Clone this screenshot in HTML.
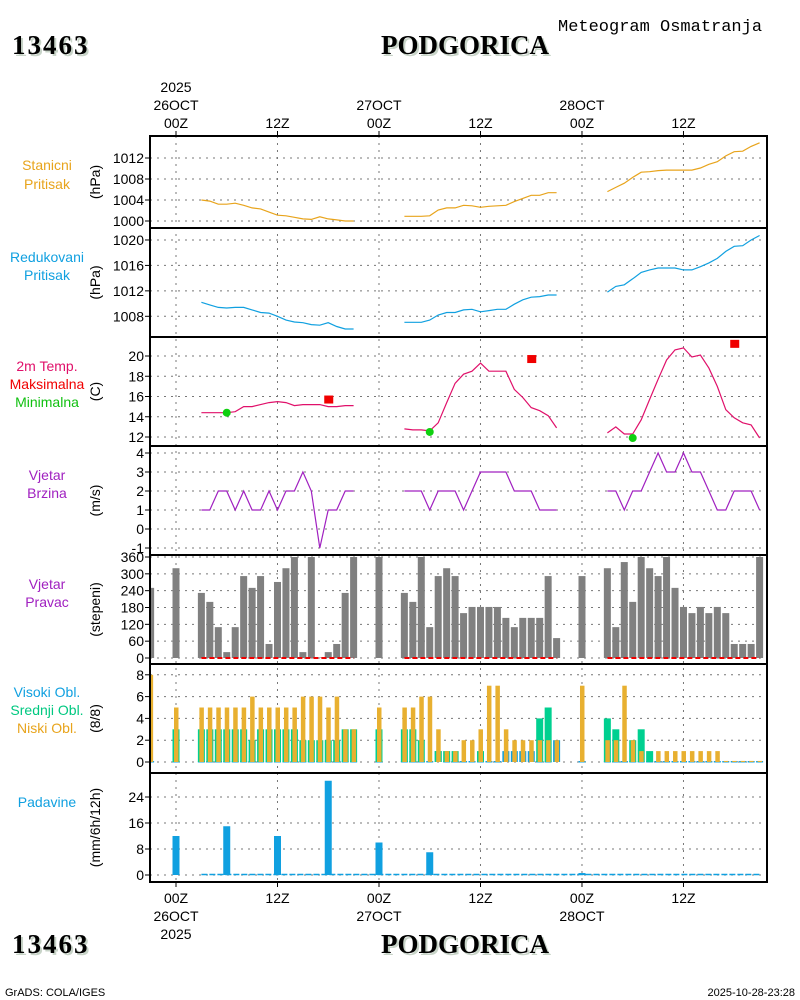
<!DOCTYPE html>
<html><head><meta charset="utf-8">
<style>
body{margin:0;background:#fff;}
svg{display:block;font-family:"Liberation Sans",sans-serif;}
.tk{font-size:14px;fill:#000;}
.lab{font-size:14px;}
.ttl{font-family:"Liberation Serif",serif;font-weight:bold;font-size:27px;}
</style></head>
<body>
<svg id="chart" width="800" height="1000" viewBox="0 0 800 1000" xmlns="http://www.w3.org/2000/svg">
<defs><clipPath id="pc"><rect x="150" y="136" width="617" height="746"/></clipPath></defs>
<g>
<text x="558" y="31" font-size="17" font-family="Liberation Mono, monospace">Meteogram Osmatranja</text>
<text x="14" y="56" class="ttl" fill="#c8d4c8" letter-spacing="2">13463</text>
<text x="12" y="54" class="ttl" letter-spacing="2">13463</text>
<text x="467" y="56" class="ttl" fill="#c8d4c8" text-anchor="middle">PODGORICA</text>
<text x="465" y="54" class="ttl" text-anchor="middle">PODGORICA</text>
<text x="14" y="955" class="ttl" fill="#c8d4c8" letter-spacing="2">13463</text>
<text x="12" y="953" class="ttl" letter-spacing="2">13463</text>
<text x="467" y="955" class="ttl" fill="#c8d4c8" text-anchor="middle">PODGORICA</text>
<text x="465" y="953" class="ttl" text-anchor="middle">PODGORICA</text>
<text x="5" y="996" font-size="11">GrADS: COLA/IGES</text>
<text x="795" y="996" font-size="11" text-anchor="end">2025-10-28-23:28</text>
</g>
<g id="plot"></g>
</svg>
<script>
// ---- data ----
const seg1Hours=[3,4,5,6,7,8,9,10,11,12,13,14,15,16,17,18,19,20,21];
const seg2Hours=[27,28,29,30,31,32,33,34,35,36,37,38,39,40,41,42,43,44,45];
const seg3Hours=[51,52,53,54,55,56,57,58,59,60,61,62,63,64,65,66,67,68,69];
const stP1=[1004.0,1003.8,1003.2,1003.2,1003.4,1003.0,1002.5,1002.3,1001.7,1001.1,1001.0,1000.7,1000.4,1000.3,1000.8,1000.4,1000.2,1000.0,1000.0];
const stP2=[1000.9,1000.9,1000.9,1001.0,1002.1,1002.5,1002.5,1003.0,1002.9,1002.6,1002.8,1002.9,1003.0,1003.7,1004.3,1004.9,1004.9,1005.4,1005.4];
const stP3=[1005.6,1006.4,1007.2,1008.3,1009.3,1009.4,1009.6,1009.7,1009.7,1009.7,1009.7,1010.1,1010.8,1011.3,1012.4,1013.2,1013.3,1014.2,1014.9];
const rdP1=[1010.2,1009.8,1009.4,1009.3,1009.4,1009.4,1009.0,1008.6,1008.5,1008.0,1007.4,1007.1,1007.0,1006.7,1006.6,1007.0,1006.4,1006.0,1006.0];
const rdP2=[1007.05,1007.05,1007.05,1007.4,1008.2,1008.6,1008.6,1009.0,1009.1,1008.7,1008.9,1009.1,1009.1,1009.9,1010.6,1011.0,1011.1,1011.35,1011.35];
const rdP3=[1011.8,1012.7,1012.95,1013.9,1014.9,1015.3,1015.6,1015.6,1015.6,1015.3,1015.3,1015.8,1016.4,1017.1,1018.2,1019.0,1019.1,1020.0,1020.7];
const tmp1=[14.4,14.4,14.4,14.4,14.5,15.0,15.0,15.2,15.4,15.5,15.4,15.1,15.2,15.2,15.2,15.0,15.0,15.1,15.1];
const tmp2=[12.8,12.7,12.7,12.6,13.4,15.4,17.3,18.2,18.5,19.3,18.5,18.5,18.5,16.7,15.9,14.9,14.6,14.1,12.9];
const tmp3=[12.4,13.0,12.3,12.3,13.7,15.7,17.7,19.6,20.6,20.8,19.9,20.1,18.8,17.0,14.7,13.9,13.4,13.2,11.9];
const maxH=[18,42,66], maxV=[15.7,19.7,21.2];
const minH=[6,30,54], minV=[14.4,12.5,11.9];
const ws1=[1,1,2,2,1,2,1,1,2,1,2,2,3,2,-1,1,1,2,2];
const ws2=[2,2,2,1,2,2,2,1,2,3,3,3,3,2,2,2,1,1,1];
const ws3=[2,2,1,2,2,3,4,3,3,4,3,3,2,1,1,2,2,2,1];
const wdH=[-3,0,3,4,5,6,7,8,9,10,11,12,13,14,15,16,17,18,19,20,21,24,27,28,29,30,31,32,33,34,35,36,37,38,39,40,41,42,43,44,45,48,51,52,53,54,55,56,57,58,59,60,61,62,63,64,65,66,67,68,69];
const wdV=[250,320,232,200,110,21,110,292,250,292,50,271,320,360,21,360,2,21,50,232,360,360,232,200,360,110,292,320,292,160,182,182,182,182,143,110,143,143,143,292,71,292,320,110,342,200,360,320,292,360,250,182,160,182,160,182,160,50,50,50,360];
const clH=wdH;
const clLow=[8,5,5,5,5,5,5,5,6,5,5,5,5,5,6,6,6,5,6,3,3,5,5,5,6,6,3,1,1,2,2,3,7,7,3,2,2,2,2,2,2,7,2,2,7,2,1,0,1,1,1,1,1,1,1,1,0.1,0.1,0.1,0.1,0.1];
const clMid=[0,3,3,3,3,3,3,3,2,3,3,3,3,3,2,2,2,2,2,3,3,3,3,3,2,0,1,1,1,0,0,1,0,0,0,0,0,0,4,5,0,0,4,3,0,2,3,1,0,0,0,0,0,0,0,0,0,0,0,0,0];
const clHigh=[0,0,0,0,0,0,0,0,0,0,0,0,0,0,0,0,0,0,0,0,0,0,0,0,0,0,1,0,0,0,0,0,0,0,1,1,1,1,0,0,2,0,0,0,0,0,0,0,0,0,0,0,0,0,0,0,0,0,0,0,0];
const prH=[0,6,12,18,24,30,48];
const prV=[12,15,12,29,10,7,0.6];
const p1Ticks=[1000,1004,1008,1012], p2Ticks=[1008,1012,1016,1020], p3Ticks=[12,14,16,18,20];
const p4Ticks=[-1,0,1,2,3,4], p5Ticks=[0,60,120,180,240,300,360], p6Ticks=[0,2,4,6,8], p7Ticks=[0,8,16,24];
const timeTicks=[0,12,24,36,48,60];
const timeLbl=["00Z","12Z","00Z","12Z","00Z","12Z"];
const dayLbl=["26OCT","","27OCT","","28OCT",""];

// ---- scales ----
const X=h=>176+h*8.458;
const L=150,R=767;
const bounds=[136,228,337,446,555,664,773,882];
const y1=v=>221-(v-1000)*5.25, y2=v=>316.3-(v-1008)*6.36, y3=v=>437-(v-12)*10.125;
const y4=v=>529-v*19, y5=v=>658-v*(101/360), y6=v=>762-v*10.9, y7=v=>875-v*3.25;
const NS="http://www.w3.org/2000/svg";
const root=document.getElementById('plot');
const plot=document.createElementNS(NS,'g');
root.appendChild(plot);
const data=document.createElementNS(NS,'g');
data.setAttribute('clip-path','url(#pc)');
function mk(tag,attrs,parent){const e=document.createElementNS(NS,tag);for(const k in attrs)e.setAttribute(k,attrs[k]);(parent||plot).appendChild(e);return e;}
function txt(x,y,s,attrs,parent){const e=mk('text',Object.assign({x:x,y:y},attrs),parent);e.textContent=s;return e;}

// gridlines
const grid=mk('g',{});


timeTicks.forEach(h=>{const l=mk('line',{x1:X(h),x2:X(h),y1:136,y2:882,stroke:'#777','stroke-width':1,'stroke-dasharray':'2,5'},grid);});
const panels=[[p1Ticks,y1,'(hPa)',0],[p2Ticks,y2,'(hPa)',1],[p3Ticks,y3,'(C)',2],[p4Ticks,y4,'(m/s)',3],[p5Ticks,y5,'(stepeni)',4],[p6Ticks,y6,'(8/8)',5],[p7Ticks,y7,'(mm/6h/12h)',6]];
panels.forEach(([ticks,ys,unit,i])=>{
  const g=mk('g',{});
  
  
  ticks.forEach(t=>{
    const y=ys(t);
    const gl=mk('line',{x1:L,x2:R,y1:y,y2:y,stroke:'#777','stroke-width':1,'stroke-dasharray':'2,5'},g);
    
    
    mk('line',{x1:145,x2:L,y1:y,y2:y,stroke:'#000','stroke-width':1},g);
    const tl=txt(144,y+5,String(t),{'text-anchor':'end',class:'tk'},g);
    
    
  });
  const cy=(bounds[i]+bounds[i+1])/2;
  const ut=txt(100,cy,unit,{'text-anchor':'middle',class:'tk',transform:'rotate(-90 100 '+cy+')'},g);
  
  
});
plot.appendChild(data);

// series helpers
function line(hours,vals,ys,color,name){
  const pts=hours.map((h,i)=>X(h).toFixed(1)+','+ys(vals[i]).toFixed(1)).join(' ');
  const p=mk('polyline',{points:pts,fill:'none',stroke:color,'stroke-width':1.2},data);
  
  
}
const segH=[seg1Hours,seg2Hours,seg3Hours];
[stP1,stP2,stP3].forEach((v,i)=>line(segH[i],v,y1,'#e8a41c','station-pressure-line'));
[rdP1,rdP2,rdP3].forEach((v,i)=>line(segH[i],v,y2,'#10a0e0','reduced-pressure-line'));
[tmp1,tmp2,tmp3].forEach((v,i)=>line(segH[i],v,y3,'#e0106a','temperature-line'));
maxH.forEach((h,i)=>{const r=mk('rect',{x:X(h)-4,y:y3(maxV[i])-4,width:9,height:8,fill:'#f00000'},data);});
minH.forEach((h,i)=>{const c=mk('circle',{cx:X(h),cy:y3(minV[i]),r:4,fill:'#10d010'},data);});
[ws1,ws2,ws3].forEach((v,i)=>line(segH[i],v,y4,'#a020c0','wind-speed-line'));
// wind direction
wdH.forEach((h,i)=>{const y=y5(wdV[i]);const r=mk('rect',{x:X(h)-3.5,y:y,width:7,height:658-y,fill:'#808080'},data);});
segH.forEach(s=>{const l=mk('line',{x1:X(s[0]),x2:X(s[s.length-1]),y1:658,y2:658,stroke:'#f00000','stroke-width':2,'stroke-dasharray':'5,3'},data);});
// clouds
clH.forEach((h,i)=>{
  const x=X(h);
  if(clHigh[i]>0){const y=y6(clHigh[i]);const r=mk('rect',{x:x-3.5,y:y,width:7,height:762-y,fill:'#10a0e0'},data);}
  else{const r=mk('rect',{x:x-3.5,y:761,width:7,height:1.5,fill:'#10a0e0'},data);}
  if(clMid[i]>0){const y=y6(clMid[i]);const r=mk('rect',{x:x-3.5,y:y,width:7,height:762-y,fill:'#00d090'},data);}
  if(clLow[i]>0){const y=y6(clLow[i]);const r=mk('rect',{x:x-2,y:y,width:4.5,height:762-y,fill:'#e8b030'},data);}
});
// precipitation
const base=mk('line',{x1:X(3),x2:X(69),y1:874.5,y2:874.5,stroke:'#10a0e0','stroke-width':1.5,'stroke-dasharray':'6,2'},data);


prH.forEach((h,i)=>{const y=y7(prV[i]);const r=mk('rect',{x:X(h)-3.5,y:y,width:7,height:875-y,fill:'#10a0e0'},data);});

// frames
bounds.slice(0,-1).forEach((b,i)=>{const r=mk('rect',{x:L,y:b,width:R-L,height:bounds[i+1]-b,fill:'none',stroke:'#000','stroke-width':2});});
// time axis
const ax=mk('g',{});


timeTicks.forEach((h,i)=>{
  const x=X(h);
  mk('line',{x1:x,x2:x,y1:131,y2:136,stroke:'#000'},ax);
  mk('line',{x1:x,x2:x,y1:882,y2:887,stroke:'#000'},ax);
  txt(x,128,timeLbl[i],{'text-anchor':'middle',class:'tk'},ax);
  txt(x,903,timeLbl[i],{'text-anchor':'middle',class:'tk'},ax);
  if(dayLbl[i]){txt(x,110,dayLbl[i],{'text-anchor':'middle',class:'tk'},ax);txt(x,921,dayLbl[i],{'text-anchor':'middle',class:'tk'},ax);}
});
txt(X(0),92,'2025',{'text-anchor':'middle',class:'tk'},ax);
txt(X(0),939,'2025',{'text-anchor':'middle',class:'tk'},ax);

// left labels
const labels=[["Stanicni",170,'#e8a41c'],["Pritisak",189,'#e8a41c'],["Redukovani",262,'#10a0e0'],["Pritisak",280,'#10a0e0'],
["2m Temp.",371,'#e0106a'],["Maksimalna",389,'#f00000'],["Minimalna",407,'#10c010'],["Vjetar",480,'#a020c0'],["Brzina",498,'#a020c0'],
["Vjetar",589,'#a020c0'],["Pravac",607,'#a020c0'],["Visoki Obl.",697,'#10a0e0'],["Srednji Obl.",715,'#00c880'],["Niski Obl.",733,'#e8a41c'],["Padavine",807,'#10a0e0']];
labels.forEach(([s,y,c])=>{const t=txt(47,y,s,{'text-anchor':'middle',class:'lab',fill:c});});
</script>
</body></html>
